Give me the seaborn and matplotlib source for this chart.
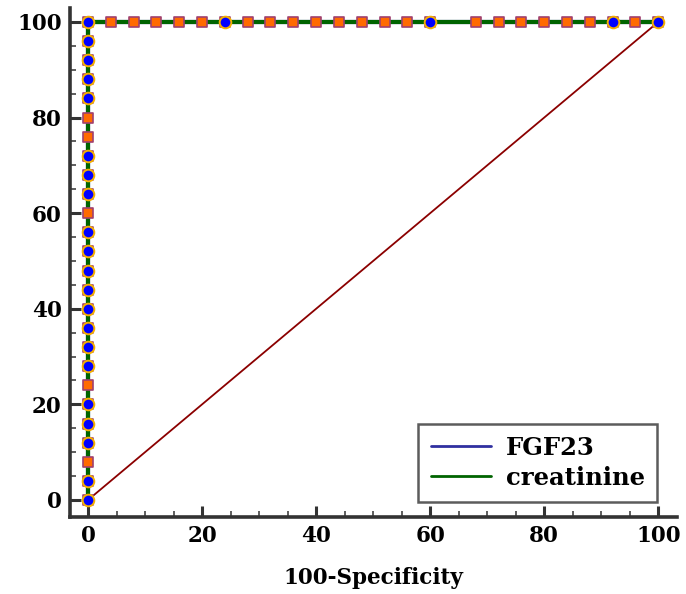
import matplotlib
matplotlib.use("Agg")
import matplotlib.pyplot as plt
from matplotlib.lines import Line2D
import seaborn as sns
import pandas as pd

# ROC operating points (100-Specificity, Sensitivity), in percent
fgf23_fpr = [0] * 21 + [24, 60, 92, 100]
fgf23_sens = [0, 4, 12, 16, 20, 28, 32, 36, 40, 44, 48, 52, 56, 64, 68, 72,
              84, 88, 92, 96, 100, 100, 100, 100, 100]

creat_fpr = [0] * 26 + [4, 8, 12, 16, 20, 24, 28, 32, 36, 40, 44, 48, 52, 56,
                        60, 68, 72, 76, 80, 84, 88, 92, 96, 100]
creat_sens = list(range(0, 101, 4)) + [100] * 24

ref_x = [0, 100]
ref_y = [0, 100]

x_ticks = [0, 20, 40, 60, 80, 100]
y_ticks = [0, 20, 40, 60, 80, 100]

sns.set_theme(style="white")
plt.rcParams["font.family"] = ["DejaVu Serif", "Liberation Serif"]
plt.rcParams["font.weight"] = "bold"
plt.rcParams["text.color"] = "black"
plt.rcParams["xtick.labelcolor"] = "black"
plt.rcParams["ytick.labelcolor"] = "black"
plt.rcParams["axes.labelcolor"] = "black"

fig = plt.figure(figsize=(6.86, 5.94), dpi=100)
ax = fig.add_axes([0.102, 0.1296, 0.885, 0.857])

fgf = pd.DataFrame({"fpr": fgf23_fpr, "sens": fgf23_sens})
cre = pd.DataFrame({"fpr": creat_fpr, "sens": creat_sens})

# reference diagonal
sns.lineplot(x=ref_x, y=ref_y, ax=ax, color="#8b0000", lw=1.3, zorder=1)

# ROC curves
sns.lineplot(data=fgf, x="fpr", y="sens", sort=False, estimator=None, ax=ax,
             color="#3030a0", lw=3, zorder=2)
sns.lineplot(data=cre, x="fpr", y="sens", sort=False, estimator=None, ax=ax,
             color="#006400", lw=3, zorder=3)

# criterion markers
sns.scatterplot(data=cre, x="fpr", y="sens", ax=ax, marker="s", s=60,
                color="#ff6a00", edgecolor="#a0406e", linewidth=1.2,
                zorder=4, legend=False)
sns.scatterplot(data=fgf, x="fpr", y="sens", ax=ax, marker="o", s=70,
                color="#0000ff", edgecolor="#f5b000", linewidth=1.4,
                zorder=5, legend=False)

ax.set_xlim(-3.16, 103.3)
ax.set_ylim(-3.56, 102.93)
ax.set_xticks(x_ticks)
ax.set_yticks(y_ticks)
ax.set_xticks(range(0, 101, 5), minor=True)
ax.set_yticks(range(0, 101, 5), minor=True)
ax.set_xticklabels([str(v) for v in x_ticks])
ax.set_yticklabels([str(v) for v in y_ticks])

ax.tick_params(which="major", direction="in", length=8, width=2.2,
               color="#333333", labelsize=15.5, pad=6, left=True, bottom=True,
               labelcolor="black")
ax.tick_params(which="minor", direction="in", length=4.5, width=1.1,
               color="#333333", left=True, bottom=True)
for lab in ax.get_xticklabels() + ax.get_yticklabels():
    lab.set_fontweight("bold")

for side in ["top", "right"]:
    ax.spines[side].set_visible(False)
for side in ["left", "bottom"]:
    ax.spines[side].set_color("#333333")
    ax.spines[side].set_linewidth(2.6)

ax.set_xlabel("100-Specificity", fontsize=15.5, fontweight="bold",
              labelpad=14, color="black")
ax.set_ylabel("")

handles = [Line2D([0], [0], color="#3030a0", lw=2),
           Line2D([0], [0], color="#006400", lw=2)]
leg = ax.legend(handles, ["FGF23", "creatinine"], loc="lower right",
                bbox_to_anchor=(0.967, 0.0295), borderaxespad=0,
                frameon=True, fancybox=False, handlelength=2.5,
                handletextpad=0.6, borderpad=0.5, labelspacing=0.25,
                prop={"weight": "bold", "size": 17.5})
for t in leg.get_texts():
    t.set_color("black")
leg.get_frame().set_edgecolor("#333333")
leg.get_frame().set_linewidth(1.8)

fig.savefig("out.png", dpi=100)
